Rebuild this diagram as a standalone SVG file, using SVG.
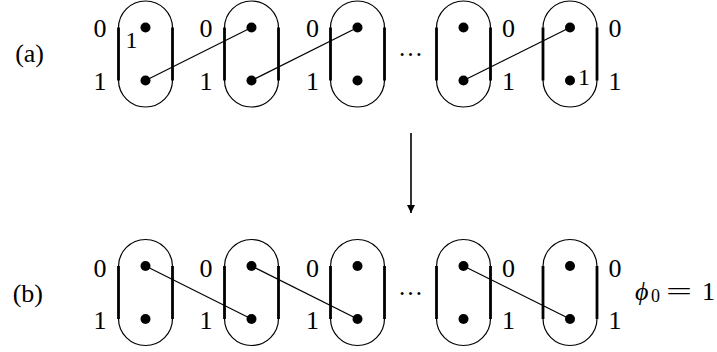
<svg xmlns="http://www.w3.org/2000/svg" xmlns:xlink="http://www.w3.org/1999/xlink" width="717" height="352" viewBox="0 0 717 352" font-family="'Liberation Serif', 'DejaVu Serif', serif">
<style>
text{font-family:'Liberation Serif','DejaVu Serif',serif;fill:#000}
.lbl{font-size:26px;text-anchor:middle}
.in{font-size:24px;text-anchor:middle}
.thin{fill:none;stroke:#000;stroke-width:1.2}
.thick{fill:none;stroke:#000;stroke-width:2.8}
.conn{fill:none;stroke:#000;stroke-width:1.2}
</style>
<defs>
<g id="cap">
<path class="thin" d="M-27,-26 A27,27 0 0 1 27,-26 M-27,26 A27,27 0 0 0 27,26"/>
<path class="thick" d="M-27,-26.5 V26.5 M27,-26.5 V26.5"/>
<circle cx="0" cy="-26.5" r="5"/>
<circle cx="0" cy="26.5" r="5"/>
</g>
<marker id="ah" markerWidth="10" markerHeight="10" refX="8" refY="4" orient="auto" markerUnits="userSpaceOnUse">
<path d="M0,0 L8,4 L0,8 Z" fill="#000"/>
</marker>
</defs>

<text x="44" y="62" font-size="26" text-anchor="end">(a)</text>
<text x="43" y="301.5" font-size="26" text-anchor="end">(b)</text>

<g id="connectors">
<line class="conn" x1="145.5" y1="80.5" x2="251.5" y2="27.5"/>
<line class="conn" x1="251.5" y1="80.5" x2="357.5" y2="27.5"/>
<line class="conn" x1="463.5" y1="80.5" x2="570" y2="27.5"/>
<line class="conn" x1="145.5" y1="266" x2="251.5" y2="319"/>
<line class="conn" x1="251.5" y1="266" x2="357.5" y2="319"/>
<line class="conn" x1="463.5" y1="266" x2="570" y2="319"/>
<line x1="411" y1="133" x2="411" y2="213" stroke="#000" stroke-width="1.6" marker-end="url(#ah)"/>
</g>

<g id="a1"><use xlink:href="#cap" x="145.5" y="54"/><text class="lbl" x="100" y="37">0</text><text class="lbl" x="100" y="90">1</text><text class="in" x="131.5" y="48">1</text></g>
<g id="a2"><use xlink:href="#cap" x="251.5" y="54"/><text class="lbl" x="206" y="37">0</text><text class="lbl" x="206" y="90">1</text></g>
<g id="a3"><use xlink:href="#cap" x="357.5" y="54"/><text class="lbl" x="312.5" y="37">0</text><text class="lbl" x="312.5" y="90">1</text></g>
<text x="410.5" y="56" font-size="25" text-anchor="middle">…</text>
<g id="a4"><use xlink:href="#cap" x="463.5" y="54"/><text class="lbl" x="508.5" y="37">0</text><text class="lbl" x="508.5" y="90">1</text></g>
<g id="a5"><use xlink:href="#cap" x="570" y="54"/><text class="lbl" x="615" y="37">0</text><text class="lbl" x="615" y="90">1</text><text class="in" x="584" y="85">1</text></g>

<g id="b1"><use xlink:href="#cap" x="145.5" y="292.5"/><text class="lbl" x="100" y="276.5">0</text><text class="lbl" x="100" y="329">1</text></g>
<g id="b2"><use xlink:href="#cap" x="251.5" y="292.5"/><text class="lbl" x="206" y="276.5">0</text><text class="lbl" x="206" y="329">1</text></g>
<g id="b3"><use xlink:href="#cap" x="357.5" y="292.5"/><text class="lbl" x="312.5" y="276.5">0</text><text class="lbl" x="312.5" y="329">1</text></g>
<text x="410.5" y="295" font-size="25" text-anchor="middle">…</text>
<g id="b4"><use xlink:href="#cap" x="463.5" y="292.5"/><text class="lbl" x="508.5" y="276.5">0</text><text class="lbl" x="508.5" y="329">1</text></g>
<g id="b5"><use xlink:href="#cap" x="570" y="292.5"/><text class="lbl" x="615" y="276.5">0</text><text class="lbl" x="615" y="329">1</text></g>

<g id="phi">
<text x="635" y="300" font-size="26" font-style="italic">ϕ</text>
<text x="651" y="302" font-size="18">0</text>
<text x="666" y="300" font-size="26" textLength="26" lengthAdjust="spacingAndGlyphs">=</text>
<text x="708.5" y="300" font-size="26" text-anchor="middle">1</text>
</g>
</svg>
